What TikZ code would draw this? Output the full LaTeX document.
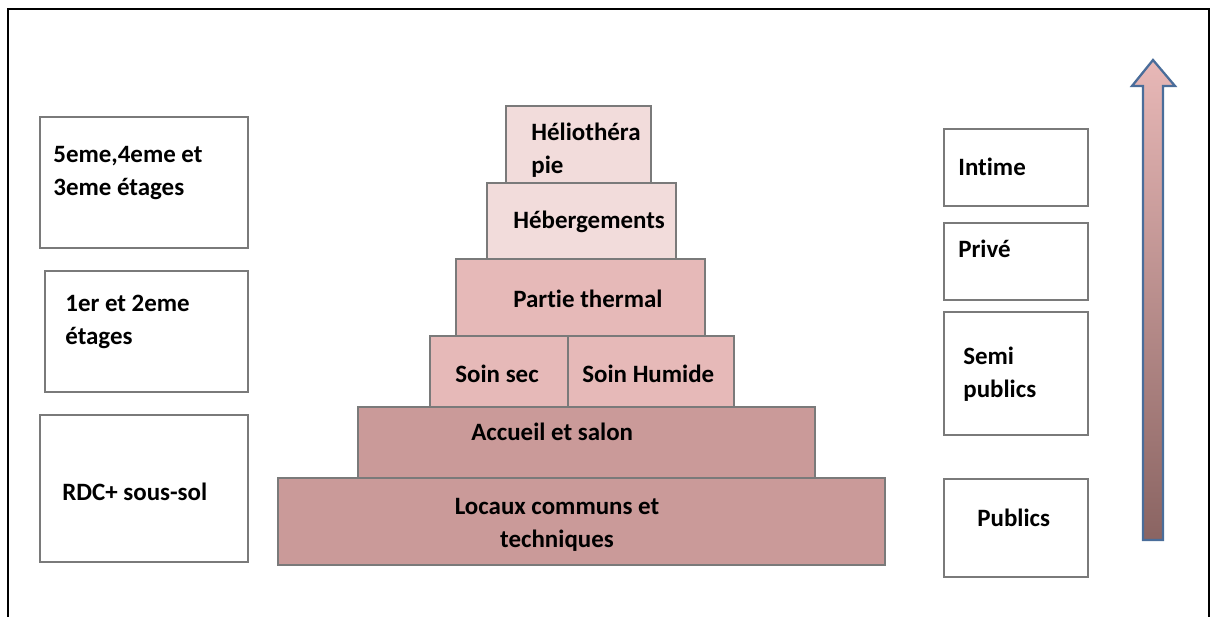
\documentclass[tikz,border=0pt]{standalone}
\usepackage{fontspec}
\setmainfont{Carlito}[Ligatures=NoCommon]
\usetikzlibrary{positioning}
\definecolor{boxgray}{HTML}{7A7A7A}
\definecolor{pinklight}{HTML}{F2DCDB}
\definecolor{pinkmid}{HTML}{E6B9B8}
\definecolor{pinkdark}{HTML}{CA9A99}
\definecolor{arrowtop}{HTML}{E8B8B7}
\definecolor{arrowbot}{HTML}{8A6462}
\definecolor{arrowedge}{HTML}{4A6D9A}
\tikzset{
  zonebox/.style={draw=boxgray, line width=1.3pt},
  lbl/.style={font=\fontsize{14.2}{19}\selectfont\bfseries, inner sep=0pt, anchor=west, align=left}
}

\begin{document}
\begin{tikzpicture}[x=0.02cm, y=-0.02cm]
  \useasboundingbox (0,0) rectangle (1211,617);
  % cadre
  \draw[line width=1.1pt] (8,617) -- (8,9) -- (1209,9) -- (1209,617);

  % niveaux (gauche)
  \draw[zonebox] (40,117) rectangle (248,248);
  \node[lbl] (niv3) at (53,173) {5eme,4eme et\\3eme étages};
  \draw[zonebox] (45,271) rectangle (248,392);
  \node[lbl] (niv1) at (65,322) {1er et 2eme\\étages};
  \draw[zonebox] (40,415) rectangle (248,562);
  \node[lbl] (rdc) at (62,492) {RDC+ sous-sol};

  % pyramide
  \draw[zonebox, fill=pinklight] (506,106) rectangle (651,183);
  \node[lbl] (helio) at (531,150) {Héliothéra\\pie};
  \draw[zonebox, fill=pinklight] (487,183) rectangle (676,259);
  \node[lbl] (heberg) at (513,222) {Hébergements};
  \draw[zonebox, fill=pinkmid] (456,259) rectangle (705,336);
  \node[lbl] (thermal) at (513,299) {Partie thermal};
  \draw[zonebox, fill=pinkmid] (430,336) rectangle (568,407);
  \node[lbl] (soinsec) at (455,374) {Soin sec};
  \draw[zonebox, fill=pinkmid] (568,336) rectangle (734,407);
  \node[lbl] (soinhum) at (582,374) {Soin Humide};
  \draw[zonebox, fill=pinkdark] (358,407) rectangle (815,478);
  \node[lbl] (accueil) at (471,432) {Accueil et salon};
  \draw[zonebox, fill=pinkdark] (278,478) rectangle (885,565);
  \node[lbl, anchor=center, align=center] (locaux) at (557,525) {Locaux communs et\\techniques};

  % statuts (droite)
  \draw[zonebox] (944,129) rectangle (1088,206);
  \node[lbl] (intime) at (958,167) {Intime};
  \draw[zonebox] (944,223) rectangle (1088,300);
  \node[lbl] (prive) at (958,249) {Privé};
  \draw[zonebox] (944,312) rectangle (1088,435);
  \node[lbl] (semi) at (963,374) {Semi\\publics};
  \draw[zonebox] (944,479) rectangle (1088,577);
  \node[lbl] (publics) at (977,518) {Publics};

  % fleche
  \shade[top color=arrowtop, bottom color=arrowbot]
    (1143,540) -- (1143,86) -- (1132,86) -- (1153,60) -- (1175,86) -- (1163,86) -- (1163,540) -- cycle;
  \draw[arrowedge, line width=1.3pt, line join=miter]
    (1143,540) -- (1143,86) -- (1132,86) -- (1153,60) -- (1175,86) -- (1163,86) -- (1163,540) -- cycle;
\end{tikzpicture}
\end{document}
